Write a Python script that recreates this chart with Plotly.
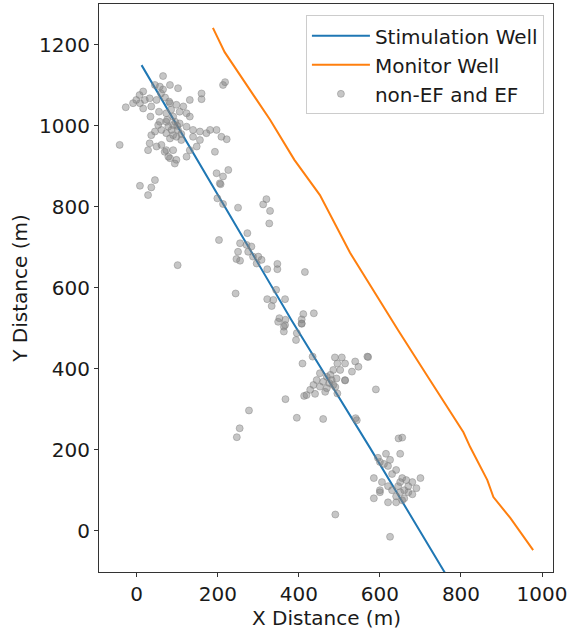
import plotly.graph_objects as go

# Stimulation well trajectory (m)
stim_x = [12, 205, 382, 576, 770]
stim_y = [1150, 821, 520, 204, -120]

# Monitor well trajectory (m)
mon_x = [188, 217, 329, 389, 452, 526, 645, 707, 719, 806, 823, 865, 880, 922, 978]
mon_y = [1242, 1182, 1015, 916, 829, 687, 495, 396, 379, 243, 206, 125, 83, 31, -48]

# Microseismic events: non-EF and EF (m)
ev_x = [65, 82, 102, 57, 45, 16, 7, -1, -9, 20, 32, 49, 36, 16, 8, -27, 34, 82, 98, 115,
        131, 160, 160, 218, 213, 73, 90, 106, 123, 131, 57, 73, 90, 106, 123, 139, 156, 172, 181, 197,
        139, 156, 148, 131, 123, 82, 98, 90, 73, 61, 49, 32, 28, 45, 36, 61, 73, 82, 98, 110,
        209, 222, 193, -42, 197, 213, 226, 205, 45, 36, 8, 28, 78, 94, 69, 86, 78, 53, 102, 90,
        60, 70, 85, 95, 75, 65, 100, 110, 55, 80,
        207, 199, 213, 250, 320, 312, 329, 327, 203, 273, 255, 250, 271, 283, 275, 287, 300, 246, 255, 296,
        308, 322, 347, 347, 415, 244, 344, 322, 337, 333, 366, 352, 367, 411, 407, 437, 407, 363, 101,
        277, 254, 247,
        349, 366, 363, 395, 393, 407, 409, 434, 489, 506, 495, 514, 539, 569, 547, 531, 485, 502, 452, 469,
        460, 481, 493, 514, 444, 436, 452, 469, 485, 465, 428, 419, 440, 413, 495, 514, 590, 367, 395, 460,
        540, 543, 646, 571, 475, 490, 478,
        595, 600, 610, 620, 625, 615, 650, 640, 630, 655, 665, 700, 680, 670, 660, 650, 640, 630, 620, 605,
        585, 600, 655, 640, 660, 670, 690, 680, 645, 650, 655, 600, 585, 625, 490, 620]
ev_y = [1123, 1101, 1093, 1097, 1101, 1085, 1076, 1064, 1056, 1064, 1068, 1064, 1048, 1043, 1056, 1046, 1023, 1056, 1052, 1048,
        1064, 1080, 1066, 1108, 1101, 1031, 1023, 1035, 1031, 1023, 1010, 1010, 1002, 1006, 998, 990, 986, 982, 990, 990,
        973, 965, 949, 940, 924, 920, 916, 940, 940, 953, 949, 957, 940, 986, 977, 990, 982, 969, 973, 965,
        973, 967, 936, 953, 883, 875, 891, 858, 866, 848, 852, 829, 924, 907, 936, 990, 998, 1002, 990, 977,
        1080, 1070, 1040, 1010, 1015, 1090, 1000, 980, 1035, 1060,
        856, 821, 807, 798, 819, 806, 790, 759, 718, 735, 710, 689, 706, 702, 689, 677, 677, 671, 667, 660,
        669, 646, 659, 646, 639, 586, 595, 572, 570, 555, 572, 525, 521, 535, 522, 537, 511, 504, 656,
        297, 253, 231,
        516, 508, 492, 488, 471, 512, 413, 430, 428, 428, 413, 413, 418, 430, 405, 393, 397, 397, 389, 380,
        368, 372, 376, 372, 372, 360, 356, 352, 360, 343, 348, 335, 338, 333, 339, 371, 349, 325, 279, 276,
        278, 273, 228, 429, 365, 355, 385,
        180, 170, 165, 160, 175, 190, 190, 150, 140, 130, 125, 130, 120, 110, 100, 95, 85, 100, 110, 120,
        80, 100, 75, 70, 80, 95, 105, 90, 110, 120, 230, 95, 130, -15, 40, 70]

fig = go.Figure()
fig.add_trace(go.Scatter(x=stim_x, y=stim_y, mode="lines", name="Stimulation Well",
                         line=dict(color="#1f77b4", width=2)))
fig.add_trace(go.Scatter(x=mon_x, y=mon_y, mode="lines", name="Monitor Well",
                         line=dict(color="#ff7f0e", width=2)))
fig.add_trace(go.Scatter(x=ev_x, y=ev_y, mode="markers", name="non-EF and EF",
                         marker=dict(size=7, color="rgba(128,128,128,0.45)",
                                     line=dict(color="rgba(128,128,128,0.45)", width=1))))

axis_common = dict(showline=True, linecolor="#333333", linewidth=1, mirror=True,
                   ticks="outside", ticklen=4, tickcolor="#333333", showgrid=False, zeroline=False,
                   automargin=False,
                   tickfont=dict(family="DejaVu Sans", size=20, color="#1a1a1a"))

fig.update_layout(
    width=571, height=632,
    margin=dict(l=99, r=18, t=4, b=60),
    paper_bgcolor="white", plot_bgcolor="white",
    font=dict(family="DejaVu Sans", size=20, color="#1a1a1a"),
    showlegend=True,
    legend=dict(x=0.98, y=0.98, xanchor="right", yanchor="top",
                bgcolor="rgba(255,255,255,0.8)", bordercolor="#cccccc", borderwidth=1,
                font=dict(family="DejaVu Sans", size=20), itemwidth=58),
    xaxis=dict(range=[-93, 1027], tickvals=[0, 200, 400, 600, 800, 1000], **axis_common),
    yaxis=dict(range=[-102, 1301], tickvals=[0, 200, 400, 600, 800, 1000, 1200],
               title=dict(text="Y Distance (m)", standoff=6, font=dict(size=20)), **axis_common),
    annotations=[dict(text="X Distance (m)", xref="paper", yref="paper", x=0.5, y=-0.0805,
                      xanchor="center", yanchor="middle", showarrow=False,
                      font=dict(family="DejaVu Sans", size=20, color="#1a1a1a"))],
)

fig.write_html("out.html", config={"displayModeBar": False},
               post_script="document.body.style.margin='0';document.body.style.padding='0';")
